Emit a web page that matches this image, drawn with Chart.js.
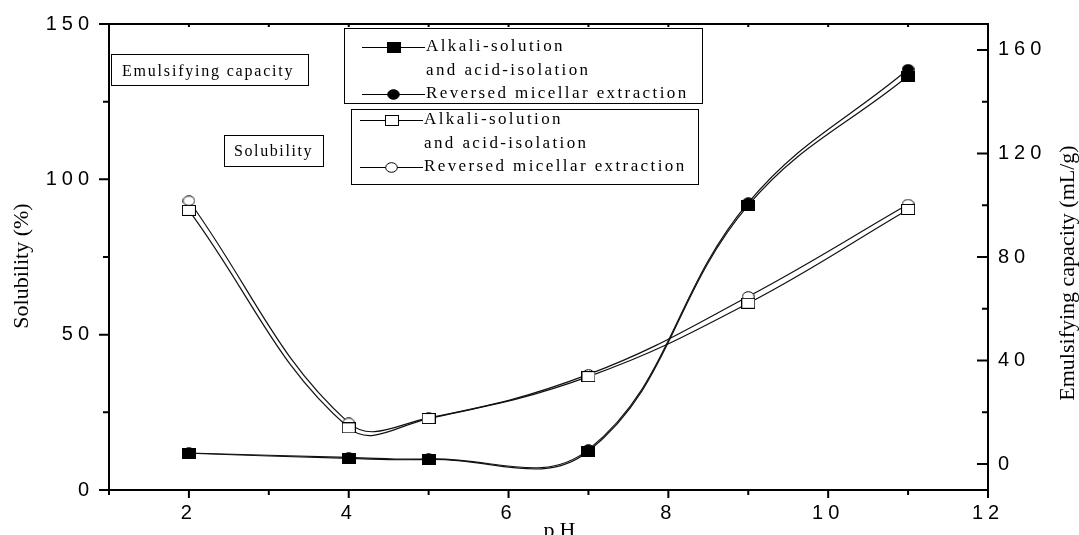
<!DOCTYPE html>
<html>
<head>
<meta charset="utf-8">
<script src="https://cdn.jsdelivr.net/npm/chart.js@4.4.0/dist/chart.umd.min.js"></script>
<style>
  html, body { margin: 0; padding: 0; background: #fff; }
  canvas { display: block; }
</style>
</head>
<body>
<canvas id="phChart" width="1079" height="535"></canvas>
<script>
// pH values measured
const phValues = [2, 4, 5, 7, 9, 11];

// emulsifying capacity (mL/g), right axis
const ecAlkali = [4.2, 2.2, 1.8, 5.0, 100.0, 149.9];
const ecMicellar = [4.3, 2.6, 2.0, 5.6, 101.0, 152.5];

// solubility (%), left axis
const solAlkali = [90.0, 20.0, 23.0, 36.5, 60.1, 90.3];
const solMicellar = [93.1, 21.6, 23.2, 37.2, 62.3, 92.0];

const xTickLabels = [2, 4, 6, 8, 10, 12];
const solTickLabels = [0, 50, 100, 150];
const ecTickLabels = [0, 40, 80, 120, 160];
const ecTicks = [0, 20, 40, 60, 80, 100, 120, 140, 160];

const seriesNames = ["Alkali-solution and acid-isolation", "Reversed micellar extraction"];

const SANS = '"Liberation Sans", Arial, sans-serif';
const SERIF = '"Liberation Serif", "Times New Roman", serif';

function makeMarker(shape, filled) {
  const w = shape === "rect" ? 14 : 13;
  const h = 11;
  const c = document.createElement("canvas");
  c.width = w;
  c.height = h;
  const g = c.getContext("2d");
  g.fillStyle = filled ? "#000" : "#fff";
  g.strokeStyle = "#000";
  g.lineWidth = 1;
  if (shape === "rect") {
    g.fillRect(0.5, 0.5, w - 1, h - 1);
    g.strokeRect(0.5, 0.5, w - 1, h - 1);
  } else {
    g.beginPath();
    g.ellipse(w / 2, h / 2, w / 2 - 0.7, h / 2 - 0.7, 0, 0, Math.PI * 2);
    g.fill();
    g.stroke();
  }
  return c;
}

const filledSquare = makeMarker("rect", true);
const filledCircle = makeMarker("circle", true);
const openSquare = makeMarker("rect", false);
const openCircle = makeMarker("circle", false);

function points(values) {
  return phValues.map((x, i) => ({ x: x, y: values[i] }));
}

function series(label, values, axis, marker) {
  return {
    label: label,
    data: points(values),
    yAxisID: axis,
    borderColor: "#111",
    borderWidth: 1.2,
    tension: 0.4,
    fill: false,
    pointStyle: marker,
    pointRadius: 6,
  };
}

// letter spacing for the tick labels (the canvas state is reset on resize)
const spacing = {
  id: "spacing",
  beforeUpdate(chart) { chart.ctx.letterSpacing = "5px"; },
  beforeDraw(chart) { chart.ctx.letterSpacing = "5px"; },
};

const frameAndTicks = {
  id: "frameAndTicks",
  afterDatasetsDraw(chart) {
    const { ctx, chartArea: a, scales } = chart;
    ctx.save();
    ctx.strokeStyle = "#000";
    ctx.lineWidth = 2;
    ctx.strokeRect(a.left, a.top, a.right - a.left, a.bottom - a.top);
    ctx.beginPath();
    scales.x.ticks.forEach((t) => {
      const px = scales.x.getPixelForValue(t.value);
      const len = t.value % 2 === 0 ? 8 : 5;
      ctx.moveTo(px, a.bottom);
      ctx.lineTo(px, a.bottom + len);
      ctx.moveTo(px, a.top);
      ctx.lineTo(px, a.top + 3);
    });
    scales.y.ticks.forEach((t) => {
      const py = scales.y.getPixelForValue(t.value);
      const len = t.value % 50 === 0 ? 10 : 6;
      ctx.moveTo(a.left - len, py);
      ctx.lineTo(a.left, py);
    });
    scales.y1.ticks.forEach((t) => {
      const py = scales.y1.getPixelForValue(t.value);
      const len = t.value % 40 === 0 ? 11 : 6;
      ctx.moveTo(a.right - len, py);
      ctx.lineTo(a.right, py);
    });
    ctx.stroke();
    ctx.restore();
  },
};

function text(ctx, str, x, y, font, spacingPx, align) {
  ctx.save();
  ctx.font = font;
  ctx.letterSpacing = spacingPx + "px";
  ctx.fillStyle = "#000";
  ctx.textAlign = align || "left";
  ctx.textBaseline = "middle";
  ctx.fillText(str, x, y);
  ctx.restore();
}

function box(ctx, x, y, w, h) {
  ctx.save();
  ctx.strokeStyle = "#000";
  ctx.lineWidth = 1;
  ctx.strokeRect(x + 0.5, y + 0.5, w, h);
  ctx.restore();
}

function legendRow(ctx, x0, x1, y, marker) {
  ctx.save();
  ctx.strokeStyle = "#000";
  ctx.lineWidth = 1;
  ctx.beginPath();
  ctx.moveTo(x0, y + 0.5);
  ctx.lineTo(x1, y + 0.5);
  ctx.stroke();
  const mx = (x0 + x1) / 2;
  ctx.drawImage(marker, Math.round(mx - marker.width / 2), Math.round(y - marker.height / 2));
  ctx.restore();
}

const annotations = {
  id: "annotations",
  afterDraw(chart) {
    const { ctx, chartArea: a } = chart;
    const L = a.left, T = a.top;
    const legendFont = "17px " + SERIF;
    const labelFont = "16px " + SERIF;

    // panel labels
    box(ctx, L + 2, T + 30, 197, 31);
    text(ctx, "Emulsifying capacity", L + 13, T + 48, labelFont, 1.8);
    box(ctx, L + 115, T + 111, 99, 31);
    text(ctx, "Solubility", L + 125, T + 128, labelFont, 1.6);

    // legend for emulsifying capacity
    box(ctx, L + 235, T + 4, 358, 75);
    legendRow(ctx, L + 253, L + 316, T + 23, filledSquare);
    text(ctx, "Alkali-solution", L + 317, T + 23, legendFont, 2.4);
    text(ctx, "and acid-isolation", L + 317, T + 47, legendFont, 2.4);
    legendRow(ctx, L + 253, L + 316, T + 70, filledCircle);
    text(ctx, seriesNames[1], L + 317, T + 70, legendFont, 2.4);

    // legend for solubility
    box(ctx, L + 242, T + 85, 347, 75);
    legendRow(ctx, L + 251, L + 314, T + 96, openSquare);
    text(ctx, "Alkali-solution", L + 315, T + 96, legendFont, 2.4);
    text(ctx, "and acid-isolation", L + 315, T + 120, legendFont, 2.4);
    legendRow(ctx, L + 251, L + 314, T + 143, openCircle);
    text(ctx, seriesNames[1], L + 315, T + 143, legendFont, 2.4);

    // axis titles
    const titleFont = "22px " + SERIF;
    ctx.save();
    ctx.translate(22, 266);
    ctx.rotate(-Math.PI / 2);
    text(ctx, "Solubility (%)", 0, 0, titleFont, 0, "center");
    ctx.restore();
    ctx.save();
    ctx.translate(1068, 273);
    ctx.rotate(-Math.PI / 2);
    text(ctx, "Emulsifying capacity (mL/g)", 0, 0, titleFont, 0, "center");
    ctx.restore();
    ctx.save();
    ctx.font = titleFont;
    ctx.letterSpacing = "5px";
    ctx.fillStyle = "#000";
    ctx.textAlign = "center";
    ctx.textBaseline = "alphabetic";
    ctx.fillText("pH", 562, 537);
    ctx.restore();
  },
};

const tickFont = { family: SANS, size: 20 };

// fixed box sizes so the plot area matches the original frame
function fixVertical(width) {
  return (scale) => {
    scale.width = width;
    scale.paddingTop = 0;
    scale.paddingBottom = 0;
  };
}

new Chart(document.getElementById("phChart").getContext("2d"), {
  type: "line",
  data: {
    datasets: [
      series(seriesNames[0] + " (EC)", ecAlkali, "y1", filledSquare),
      series(seriesNames[1] + " (EC)", ecMicellar, "y1", filledCircle),
      series(seriesNames[0] + " (S)", solAlkali, "y", openSquare),
      series(seriesNames[1] + " (S)", solMicellar, "y", openCircle),
    ],
  },
  options: {
    responsive: false,
    animation: false,
    layout: { padding: { top: 24, left: 0, right: 0, bottom: 0 } },
    plugins: {
      legend: { display: false },
      tooltip: { enabled: false },
    },
    scales: {
      x: {
        type: "linear",
        position: "bottom",
        min: 1,
        max: 12,
        afterFit(scale) {
          scale.height = 45;
          scale.paddingLeft = 0;
          scale.paddingRight = 0;
        },
        grid: { display: false, drawTicks: false },
        border: { display: false },
        ticks: {
          stepSize: 1,
          autoSkip: false,
          maxRotation: 0,
          padding: 11,
          color: "#000",
          font: tickFont,
          callback: (v) => (xTickLabels.includes(v) ? String(v) : ""),
        },
      },
      y: {
        position: "left",
        min: 0,
        max: 150,
        afterFit: fixVertical(109),
        grid: { display: false, drawTicks: false },
        border: { display: false },
        ticks: {
          stepSize: 25,
          padding: 15,
          color: "#000",
          font: tickFont,
          callback: (v) => (solTickLabels.includes(v) ? String(v) : ""),
        },
      },
      y1: {
        position: "right",
        min: -10,
        max: 170,
        afterFit: fixVertical(91),
        afterBuildTicks(scale) {
          scale.ticks = ecTicks.map((v) => ({ value: v }));
        },
        grid: { display: false, drawTicks: false },
        border: { display: false },
        ticks: {
          padding: 10,
          color: "#000",
          font: tickFont,
          callback: (v) => (ecTickLabels.includes(v) ? String(v) : ""),
        },
      },
    },
  },
  plugins: [spacing, frameAndTicks, annotations],
});
</script>
</body>
</html>
